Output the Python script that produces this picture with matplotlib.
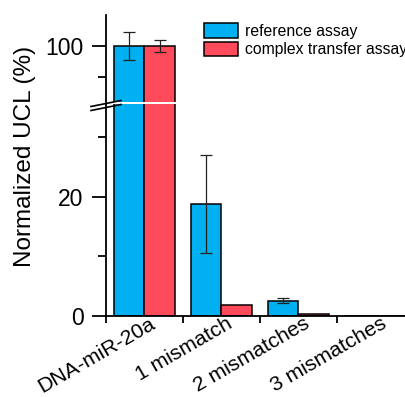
import matplotlib
matplotlib.use("Agg")
import matplotlib.pyplot as plt
import matplotlib.transforms as mtransforms
from matplotlib.lines import Line2D
import numpy as np

plt.rcParams['font.family'] = ['Liberation Sans', 'DejaVu Sans']

# data
categories = ["DNA-miR-20a", "1 mismatch", "2 mismatches", "3 mismatches"]
series_names = ["reference assay", "complex transfer assay"]
reference = [100.0, 18.8, 2.6, 0.0]
reference_err = [2.2, 8.2, 0.4, 0.0]
transfer = [100.0, 1.8, 0.35, 0.0]
transfer_err = [1.0, 0.0, 0.0, 0.0]

blue = '#00B0F0'
red = '#FF4A5C'

fig = plt.figure(figsize=(4.06, 3.97), dpi=100)
ax_top = fig.add_axes([0.261, 0.743, 0.739, 0.219])
ax_bot = fig.add_axes([0.261, 0.204, 0.739, 0.533])

x = np.arange(len(categories))
w = 0.4
for ax in (ax_top, ax_bot):
    ax.bar(x - w / 2, reference, w, color=blue, edgecolor='black', linewidth=1.1)
    ax.bar(x + w / 2, transfer, w, color=red, edgecolor='black', linewidth=1.1)
    for xi, v, e in zip(x - w / 2, reference, reference_err):
        if e > 0:
            ax.errorbar(xi, v, yerr=e, fmt='none', ecolor='#222222', elinewidth=0.9, capsize=4, capthick=0.9)
    for xi, v, e in zip(x + w / 2, transfer, transfer_err):
        if e > 0:
            ax.errorbar(xi, v, yerr=e, fmt='none', ecolor='#222222', elinewidth=0.9, capsize=4, capthick=0.9)
    ax.set_xlim(-0.5, 3.4)
    ax.spines['top'].set_visible(False)
    ax.spines['right'].set_visible(False)
    ax.spines['left'].set_linewidth(1.3)
    ax.tick_params(axis='y', which='major', length=10, width=1.3, labelsize=16.5, pad=6)
    ax.tick_params(axis='y', which='minor', length=5.5, width=1.3)

ax_top.set_ylim(91, 105)
ax_top.set_yticks([100])
ax_top.set_yticks([95], minor=True)
ax_top.spines['bottom'].set_visible(False)
ax_top.set_xticks([])

ax_bot.set_ylim(0, 35.5)
ax_bot.set_yticks([0, 20])
ax_bot.set_yticks([10, 30], minor=True)
ax_bot.spines['bottom'].set_linewidth(1.3)
ax_bot.set_xticks(x)
ax_bot.set_xticklabels(categories, rotation=30, ha='right', va='top', rotation_mode='anchor', fontsize=15.2)
ax_bot.set_xticks(x - 0.5, minor=True)
ax_bot.tick_params(axis='x', which='major', length=0, pad=0)
ax_bot.tick_params(axis='x', which='minor', length=5, width=1.3, direction='out')
offset = mtransforms.ScaledTranslation(0.05, 0.02, fig.dpi_scale_trans)
for lab in ax_bot.get_xticklabels():
    lab.set_transform(lab.get_transform() + offset)

# axis break marks
for dy in (0.0, 4.0):
    y0 = 397 - (106.5 + dy)
    y1 = 397 - (100.5 + dy)
    fig.add_artist(Line2D([91 / 406, 121 / 406], [y0 / 397, y1 / 397], color='black', linewidth=1.2))

fig.text(25 / 406, 0.606, "Normalized UCL (%)", rotation=90, ha='center', va='center', fontsize=17.5)

handles = [plt.Rectangle((0, 0), 1, 1, facecolor=blue, edgecolor='black', linewidth=1.1),
           plt.Rectangle((0, 0), 1, 1, facecolor=red, edgecolor='black', linewidth=1.1)]
fig.legend(handles, series_names, loc='upper left', bbox_to_anchor=(0.502, 0.942),
           frameon=False, fontsize=11.3, handlelength=2.2, handleheight=1.05,
           handletextpad=0.4, labelspacing=0.2, borderpad=0, borderaxespad=0)

fig.savefig("out.png", dpi=100)
